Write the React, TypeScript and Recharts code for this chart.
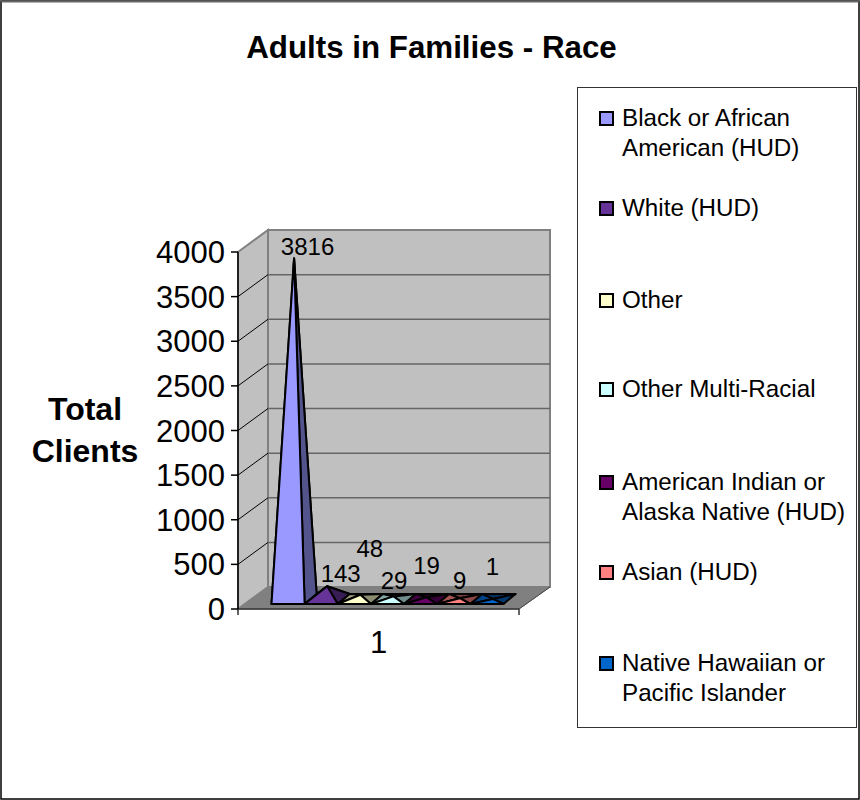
import React from 'react';
import { BarChart, Bar, XAxis, YAxis, Legend, LabelList, usePlotArea } from 'recharts';

const FONT = '"Liberation Sans", Arial, sans-serif';

// Client counts by race, one series per pyramid
const categories = ['1'];
const seriesNames = [
  'Black or African American (HUD)',
  'White (HUD)',
  'Other',
  'Other Multi-Racial',
  'American Indian or Alaska Native (HUD)',
  'Asian (HUD)',
  'Native Hawaiian or Pacific Islander',
];
const seriesValues = [3816, 143, 48, 29, 19, 9, 1];
const seriesColors = ['#9999FF', '#663399', '#FFFFCC', '#CCFFFF', '#660066', '#FF8080', '#0066CC'];
const yTicks = [0, 500, 1000, 1500, 2000, 2500, 3000, 3500, 4000];
const yMax = 4000;

// One row holding every series, keyed s0..s6
const rows = categories.map((name) => {
  const row: Record<string, string | number> = { name };
  seriesValues.forEach((v, i) => {
    row[`s${i}`] = v;
  });
  return row;
});

// Oblique projection of the chart box
const WALL_DX = 30;
const WALL_DY = 22;
// Pyramid placement on the floor
const BAR_SHIFT_X = 8.5;
const BASE_LIFT = 5;
const BASE_DX = 12;
const BASE_DY = 10;
// Data-label offsets relative to each bar's centre and value position
const labelDx = [28, 28, 24, 15, 14.5, 14.5, 14];
const labelDy = [-22, -23, -56, -26, -42, -28, -42];

function darken(hex: string, k: number) {
  const n = parseInt(hex.slice(1), 16);
  const c = [(n >> 16) & 255, (n >> 8) & 255, n & 255].map((v) => Math.round(v * k));
  return `rgb(${c[0]},${c[1]},${c[2]})`;
}

function ChartBox() {
  const plot = usePlotArea();
  if (!plot) return null;
  const { x, y, width, height } = plot;
  const bottom = y + height;
  const right = x + width;
  const bx = x + WALL_DX;
  const bRight = right + WALL_DX + 1;
  return (
    <g>
      <polygon
        points={`${x},${y} ${bx},${y - WALL_DY} ${bx},${bottom - WALL_DY} ${x},${bottom}`}
        fill="#C0C0C0"
        stroke="#808080"
        strokeWidth={2}
      />
      <rect x={bx} y={y - WALL_DY} width={bRight - bx} height={height} fill="#C0C0C0" stroke="#808080" strokeWidth={2} />
      <polygon
        points={`${x},${bottom} ${bx},${bottom - WALL_DY} ${bRight},${bottom - WALL_DY} ${right},${bottom}`}
        fill="#808080"
        stroke="#808080"
        strokeWidth={1}
      />
      {yTicks.slice(1).map((t) => {
        const gy = bottom - (t / yMax) * height;
        return (
          <g key={t}>
            {t < yMax && <line x1={x} y1={gy} x2={bx} y2={gy - WALL_DY} stroke="#000" strokeWidth={1} />}
            {t < yMax && <line x1={bx} y1={gy - WALL_DY} x2={bRight} y2={gy - WALL_DY} stroke="#666" strokeWidth={1.5} />}
          </g>
        );
      })}
      <line x1={right} y1={bottom} x2={bRight} y2={bottom - WALL_DY} stroke="#444" strokeWidth={1} />
      <line x1={x} y1={bottom} x2={x} y2={bottom + 6} stroke="#333" strokeWidth={1.5} />
      <line x1={right} y1={bottom} x2={right} y2={bottom + 6} stroke="#333" strokeWidth={1.5} />
    </g>
  );
}

function Pyramid(props: any) {
  const { x, y, width, height, fill } = props;
  const base = y + height - BASE_LIFT;
  const left = x + BAR_SHIFT_X;
  const fl = [left, base];
  const fr = [left + width, base];
  const br = [left + width + BASE_DX, base - BASE_DY];
  const bl = [left + BASE_DX, base - BASE_DY];
  const apex = [left + width / 2 + BASE_DX / 2, y - BASE_DY];
  const face = (a: number[], b: number[], color: string) => (
    <polygon points={`${a} ${b} ${apex}`} fill={color} stroke="#000" strokeWidth={2} strokeLinejoin="round" />
  );
  return (
    <g>
      {face(bl, br, darken(fill, 0.45))}
      {face(fl, bl, darken(fill, 0.65))}
      {face(fr, br, darken(fill, 0.55))}
      {face(fl, fr, fill)}
    </g>
  );
}

function valueLabel(i: number) {
  return (p: any) => (
    <text
      x={p.x + p.width / 2 + labelDx[i]}
      y={p.y + labelDy[i]}
      textAnchor="middle"
      dominantBaseline="central"
      fontFamily={FONT}
      fontSize={24}
      fill="#000"
    >
      {p.value}
    </text>
  );
}

// Vertical centre of each legend row inside the page
const legendRows: { index: number; lines: string[]; top: number }[] = [
  { index: 0, lines: ['Black or African', 'American (HUD)'], top: 118 },
  { index: 1, lines: ['White (HUD)'], top: 208 },
  { index: 2, lines: ['Other'], top: 300 },
  { index: 3, lines: ['Other Multi-Racial'], top: 389 },
  { index: 4, lines: ['American Indian or', 'Alaska Native (HUD)'], top: 482 },
  { index: 5, lines: ['Asian (HUD)'], top: 572 },
  { index: 6, lines: ['Native Hawaiian or', 'Pacific Islander'], top: 663 },
];

function LegendBox() {
  return (
    <div
      style={{
        position: 'absolute',
        left: 0,
        top: 0,
        width: 860,
        height: 800,
        fontFamily: FONT,
        fontSize: 24.2,
        color: '#000',
        pointerEvents: 'none',
      }}
    >
      <div
        style={{
          position: 'absolute',
          left: 577,
          top: 87,
          width: 280,
          height: 641,
          border: '1.5px solid #333',
          boxSizing: 'border-box',
        }}
      />
      {legendRows.map((r) => (
        <div key={r.index}>
          <div
            style={{
              position: 'absolute',
              left: 599,
              top: r.top - 7,
              width: 15,
              height: 15,
              boxSizing: 'border-box',
              background: seriesColors[r.index],
              border: '2px solid #000',
            }}
          />
          {r.lines.map((line, k) => (
            <div
              key={line}
              style={{
                position: 'absolute',
                left: 622,
                top: r.top - 15 + k * 30,
                lineHeight: '30px',
                whiteSpace: 'nowrap',
              }}
            >
              {line}
            </div>
          ))}
        </div>
      ))}
    </div>
  );
}

export default function App() {
  return (
    <div style={{ position: 'absolute', left: 0, top: 0, width: 860, height: 800, background: '#fff' }}>
      <BarChart
        width={860}
        height={800}
        data={rows}
        margin={{ top: 252, right: 341, bottom: 0, left: 0 }}
        barSize={33.14}
        barGap={0}
      >
        <rect x={1} y={1} width={858} height={798} fill="#fff" stroke="#000" strokeWidth={1.5} />
        <line x1={1} y1={1.5} x2={859} y2={1.5} stroke="#666" strokeWidth={2} />
        <text x={431.5} y={58} textAnchor="middle" fontFamily={FONT} fontWeight="bold" fontSize={31.3} fill="#000">
          Adults in Families - Race
        </text>
        <text textAnchor="middle" fontFamily={FONT} fontWeight="bold" fontSize={32} fill="#000">
          <tspan x={85} y={420}>Total</tspan>
          <tspan x={85} y={462}>Clients</tspan>
        </text>
        <ChartBox />
        <XAxis
          dataKey="name"
          height={191}
          tickLine={false}
          tick={{ fontFamily: FONT, fontSize: 31, fill: '#000', dy: 14 }}
          axisLine={{ stroke: '#333', strokeWidth: 1.5 }}
        />
        <YAxis
          width={238}
          domain={[0, yMax]}
          ticks={yTicks}
          interval={0}
          tickSize={7}
          tick={{ fontFamily: FONT, fontSize: 31, fill: '#000', dx: -4 }}
          tickLine={{ stroke: '#000', strokeWidth: 1.5 }}
          axisLine={{ stroke: '#000', strokeWidth: 1.5 }}
        />
        {seriesNames.map((name, i) => (
          <Bar
            key={name}
            dataKey={`s${i}`}
            name={name}
            fill={seriesColors[i]}
            isAnimationActive={false}
            shape={<Pyramid />}
          >
            <LabelList dataKey={`s${i}`} content={valueLabel(i)} />
          </Bar>
        ))}
        <Legend
          layout="horizontal"
          align="center"
          verticalAlign="middle"
          content={<LegendBox />}
          wrapperStyle={{ left: 0, top: 0, width: 860, height: 800, pointerEvents: 'none' }}
        />
      </BarChart>
    </div>
  );
}
